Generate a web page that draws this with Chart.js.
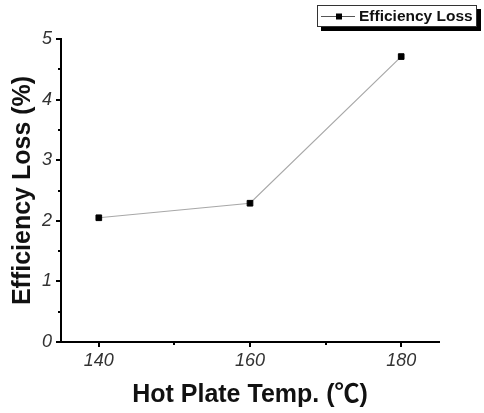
<!DOCTYPE html>
<html>
<head>
<meta charset="utf-8">
<script src="https://cdn.jsdelivr.net/npm/chart.js@4/dist/chart.umd.min.js"></script>
<style>
  html, body { margin: 0; padding: 0; background: #fff; }
  #wrap { width: 484px; height: 413px; position: relative; }
</style>
</head>
<body>
<div id="wrap"><canvas id="c"></canvas></div>
<script>
'use strict';

/* ── data ── */
const TEMPS        = [140, 160, 180];
const LOSS         = [2.05, 2.29, 4.71];
const SERIES_LABEL = 'Efficiency Loss';
const X_TICKS      = [140, 160, 180];
const X_MINOR      = [150, 170];
const Y_TICKS      = [0, 1, 2, 3, 4, 5];
const Y_MINOR      = [0.5, 1.5, 2.5, 3.5, 4.5];

const FONT = '"Liberation Sans", Arial, "Noto Sans CJK SC", "DejaVu Sans", sans-serif';

/* ── outward tick marks (major + minor) ── */
const tickMarks = {
  id: 'tickMarks',
  afterDraw(chart) {
    const { ctx, scales: { x, y } } = chart;
    ctx.save();
    ctx.strokeStyle = '#000';
    ctx.lineWidth = 2;
    const draw = (scale, vals, len, horiz) => {
      vals.forEach(v => {
        const p = Math.round(scale.getPixelForValue(v));
        ctx.beginPath();
        if (horiz) { ctx.moveTo(p, x.top); ctx.lineTo(p, x.top + len); }
        else       { ctx.moveTo(y.right, p); ctx.lineTo(y.right - len, p); }
        ctx.stroke();
      });
    };
    draw(x, X_TICKS, 5, true);
    draw(x, X_MINOR, 3, true);
    draw(y, Y_TICKS, 5, false);
    draw(y, Y_MINOR, 3, false);
    ctx.restore();
  }
};

/* ── boxed legend with drop shadow ── */
const shadowLegend = {
  id: 'shadowLegend',
  afterDraw(chart) {
    const { ctx } = chart;
    const bx = 317, by = 5, bw = 160, bh = 22;
    ctx.save();
    ctx.fillStyle = '#000';
    ctx.fillRect(bx + 4, by + 4, bw, bh);
    ctx.fillStyle = '#fff';
    ctx.fillRect(bx, by, bw, bh);
    ctx.strokeStyle = '#333';
    ctx.lineWidth = 1;
    ctx.strokeRect(bx + 0.5, by + 0.5, bw - 1, bh - 1);
    const cy = by + bh / 2;
    ctx.strokeStyle = '#555';
    ctx.beginPath();
    ctx.moveTo(bx + 4, cy + 0.5);
    ctx.lineTo(bx + 38, cy + 0.5);
    ctx.stroke();
    ctx.fillStyle = '#000';
    ctx.fillRect(bx + 19, cy - 2.5, 6, 6);
    ctx.font = 'bold 15.5px ' + FONT;
    ctx.textBaseline = 'middle';
    ctx.fillStyle = '#111';
    ctx.fillText(SERIES_LABEL, bx + 42, cy + 1);
    ctx.restore();
  }
};

new Chart(document.getElementById('c'), {
  type: 'line',
  data: {
    datasets: [{
      label: SERIES_LABEL,
      data: TEMPS.map((t, i) => ({ x: t, y: LOSS[i] })),
      borderColor: '#a8a8a8',
      borderWidth: 1.2,
      pointStyle: 'rect',
      pointRadius: 4,
      pointBackgroundColor: '#000',
      pointBorderColor: '#000',
      pointBorderWidth: 1,
      tension: 0
    }]
  },
  options: {
    responsive: true,
    maintainAspectRatio: false,
    animation: false,
    layout: { padding: { top: 39, right: 45, left: 0, bottom: 0 } },
    plugins: { legend: { display: false }, tooltip: { enabled: false } },
    scales: {
      x: {
        type: 'linear',
        min: 135, max: 185,
        afterBuildTicks: s => { s.ticks = X_TICKS.map(v => ({ value: v })); },
        afterFit: s => { s.height = 71; },
        grid: { drawOnChartArea: false, drawTicks: false },
        border: { color: '#000', width: 2 },
        ticks: { padding: 8, color: '#333', font: { family: FONT, size: 18, style: 'italic' } },
        title: {
          display: true, text: 'Hot Plate Temp. (℃)', color: '#111',
          font: { family: FONT, size: 25, weight: 'bold' },
          padding: { top: 0, bottom: 3 }
        }
      },
      y: {
        min: 0, max: 5,
        afterBuildTicks: s => { s.ticks = Y_TICKS.map(v => ({ value: v })); },
        afterFit: s => { s.width = 61; },
        grid: { drawOnChartArea: false, drawTicks: false },
        border: { color: '#000', width: 2 },
        ticks: { padding: 9, color: '#333', font: { family: FONT, size: 18, style: 'italic' } },
        title: {
          display: true, text: 'Efficiency Loss (%)', color: '#111',
          font: { family: FONT, size: 25, weight: 'bold' },
          padding: { top: 8, bottom: 0 }
        }
      }
    }
  },
  plugins: [tickMarks, shadowLegend]
});
</script>
</body>
</html>
